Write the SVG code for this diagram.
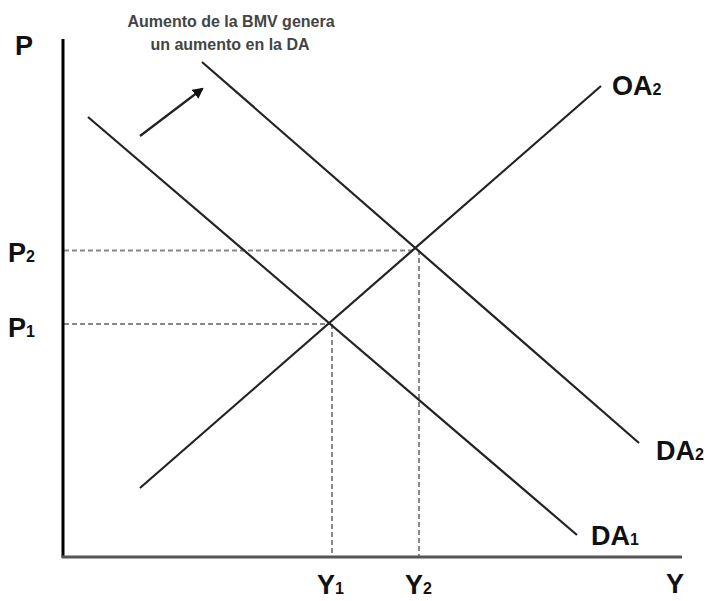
<svg xmlns="http://www.w3.org/2000/svg" width="710" height="601" viewBox="0 0 710 601">
<defs>
<marker id="ah" viewBox="0 0 10 10" refX="8" refY="5" markerWidth="5" markerHeight="5" orient="auto" markerUnits="strokeWidth">
<path d="M0,0 L10,5 L0,10 z" fill="#111"/>
</marker>
<style>
.lbl{font-family:"Liberation Sans",Arial,sans-serif;font-size:27px;font-weight:bold;fill:#111}
.sub{font-size:16px}
.note{font-family:"Liberation Sans",Arial,sans-serif;font-size:16px;font-weight:bold;fill:#444;text-anchor:middle}
.curve{stroke:#222;stroke-width:2.2;fill:none}
.dash{stroke:#888;stroke-width:2;stroke-dasharray:5 3;fill:none}
</style>
</defs>
<rect width="710" height="601" fill="#fff"/>
<g id="connectors">
<line id="guide-p2" class="dash" x1="64" y1="250.5" x2="415" y2="250.5"/>
<line id="guide-p1" class="dash" x1="64" y1="324" x2="330" y2="324"/>
<line id="guide-y1" class="dash" x1="332" y1="324" x2="332" y2="556"/>
<line id="guide-y2" class="dash" x1="419" y1="250" x2="419" y2="556"/>
<line id="shift-arrow" stroke="#222" stroke-width="2.2" x1="140" y1="136" x2="202" y2="89" marker-end="url(#ah)"/>
</g>
<g id="axes">
<line x1="63" y1="39" x2="63" y2="558" stroke="#000" stroke-width="3"/>
<line x1="62" y1="557" x2="682" y2="557" stroke="#555" stroke-width="3"/>
</g>
<g id="OA2">
<line class="curve" x1="140" y1="488" x2="601" y2="86"/>
<text class="lbl" x="612" y="95">OA<tspan class="sub">2</tspan></text>
</g>
<g id="DA1">
<line class="curve" x1="88" y1="117" x2="577" y2="535"/>
<text class="lbl" x="591" y="545">DA<tspan class="sub">1</tspan></text>
</g>
<g id="DA2">
<line class="curve" x1="202" y1="62" x2="639" y2="443"/>
<text class="lbl" x="656" y="460">DA<tspan class="sub">2</tspan></text>
</g>
<g id="labels">
<text class="lbl" x="15" y="55">P</text>
<text class="lbl" x="8" y="262">P<tspan class="sub">2</tspan></text>
<text class="lbl" x="8" y="337">P<tspan class="sub">1</tspan></text>
<text class="lbl" x="317" y="594">Y<tspan class="sub">1</tspan></text>
<text class="lbl" x="405" y="594">Y<tspan class="sub">2</tspan></text>
<text class="lbl" x="666" y="593">Y</text>
</g>
<g id="note">
<text class="note" x="231" y="27">Aumento de la BMV genera</text>
<text class="note" x="230" y="50">un aumento en la DA</text>
</g>
</svg>
